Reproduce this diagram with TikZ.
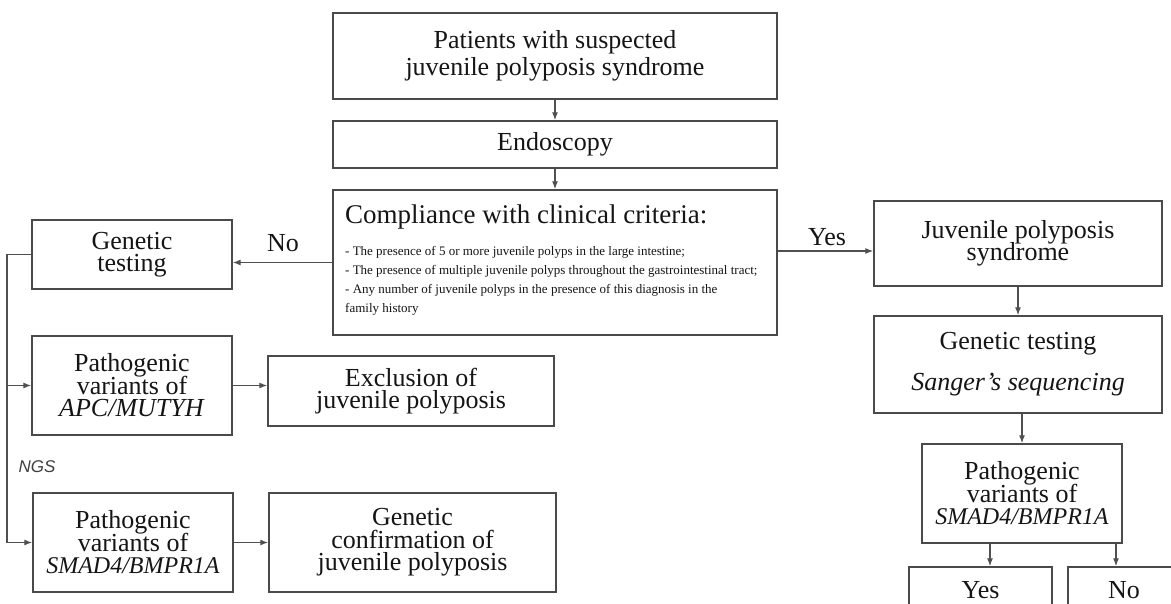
\documentclass[tikz,border=0pt]{standalone}
\usepackage{fontspec}
\setmainfont{Liberation Serif}
\newfontfamily\ngsfont{Liberation Sans}
\usetikzlibrary{arrows.meta,calc}
\definecolor{boxcol}{HTML}{4A4A4A}
\definecolor{linecol}{HTML}{505050}
\definecolor{txtcol}{HTML}{151515}
\newcommand\bigtxt{\fontsize{26}{22.5}\selectfont\lineskiplimit=-100pt\lineskip=0pt}
\begin{document}
\begin{tikzpicture}[x=1pt,y=-1pt,
  box/.style={draw=boxcol, line width=1.4pt, inner sep=0pt, align=center, text=txtcol, font=\bigtxt},
  arr/.style={draw=linecol, line width=1.2pt, -{Latex[length=8pt,width=6pt]}},
  ln/.style={draw=linecol, line width=1.2pt},
  lbl/.style={inner sep=0pt, text=txtcol, font=\bigtxt}
]
\clip (0,0) rectangle (1171,604);
\fill[white] (0,0) rectangle (1171,604);

% centre column
\node[box, minimum width=444pt, minimum height=86pt, font=\fontsize{26}{27.5}\selectfont] (pat) at (555,56) {Patients with suspected\\juvenile polyposis syndrome};
\node[box, minimum width=444pt, minimum height=47pt] (endo) at (555,144.5) {Endoscopy};
\node[box, minimum width=444pt, minimum height=145pt] (comp) at (555,262.5) {};
\node[anchor=west, inner sep=0pt, text=txtcol, font=\fontsize{27}{27}\selectfont] (comph) at (345,217) {Compliance with clinical criteria:};
\node[anchor=north west, inner sep=0pt, align=left, text=txtcol, font=\fontsize{13}{19}\selectfont] (compb) at (345,246) {- The presence of 5 or more juvenile polyps in the large intestine;\\- The presence of multiple juvenile polyps throughout the gastrointestinal tract;\\- Any number of juvenile polyps in the presence of this diagnosis in the\\family history};

% right column
\node[box, minimum width=288pt, minimum height=85pt] (jps) at (1018,243.5) {Juvenile polyposis\\syndrome};
\node[box, minimum width=288pt, minimum height=97pt, font=\fontsize{26}{41}\selectfont] (gtr) at (1018,364.5) {Genetic testing\\\textit{Sanger's sequencing}};
\node[box, minimum width=200pt, minimum height=99pt] (pvr) at (1022,493.5) {Pathogenic\\variants of\\{\fontsize{24}{22.5}\selectfont\textit{SMAD4/BMPR1A}}};
\node[box, minimum width=143pt, minimum height=46pt] (yesb) at (980.5,590) {Yes};
\node[box, minimum width=112pt, minimum height=46pt] (nob) at (1124,590) {No};

% left column
\node[box, minimum width=200pt, minimum height=69pt] (gtl) at (132,254.5) {Genetic\\testing};
\node[box, minimum width=200pt, minimum height=99pt] (apc) at (132,385.5) {Pathogenic\\variants of\\\textit{APC/MUTYH}};
\node[box, minimum width=286pt, minimum height=70pt] (excl) at (411,391) {Exclusion of\\juvenile polyposis};
\node[box, minimum width=200pt, minimum height=99pt] (smad) at (133,542.5) {Pathogenic\\variants of\\{\fontsize{24}{22.5}\selectfont\textit{SMAD4/BMPR1A}}};
\node[box, minimum width=287pt, minimum height=99pt] (conf) at (412.5,542.5) {Genetic\\confirmation of\\juvenile polyposis};

% labels
\node[lbl] (nolbl) at (283,243) {No};
\node[lbl] (yeslbl) at (827,237) {Yes};
\node[inner sep=0pt, text=black!75, font=\ngsfont\itshape\fontsize{17}{17}\selectfont] (ngs) at (37,467) {NGS};

% connectors
\draw[arr] (pat.south) -- (endo.north);
\draw[arr] (endo.south) -- (comp.north);
\draw[arr] (comp.west) -- (comp.west -| gtl.east);
\coordinate (yesA) at ([yshift=11.5pt]comp.east);
\draw[arr] (yesA) -- (yesA -| jps.west);
\draw[arr] (jps.south) -- (gtr.north);
\draw[arr] (pvr.north |- gtr.south) -- (pvr.north);
\coordinate (pa) at ([xshift=-32pt]pvr.south);
\coordinate (pb) at ([xshift=94pt]pvr.south);
\draw[arr] (pa) -- (pa |- yesb.north);
\draw[arr] (pb) -- (pb |- nob.north);

\coordinate (lx) at (7,0);
\draw[ln] (gtl.west) -- (gtl.west -| lx) -- (lx |- smad.west);
\draw[arr] (lx |- smad.west) -- (smad.west);
\draw[arr] (lx |- apc.west) -- (apc.west);
\draw[arr] (apc.east) -- (apc.east -| excl.west);
\draw[arr] (smad.east) -- (conf.west);
\end{tikzpicture}
\end{document}
